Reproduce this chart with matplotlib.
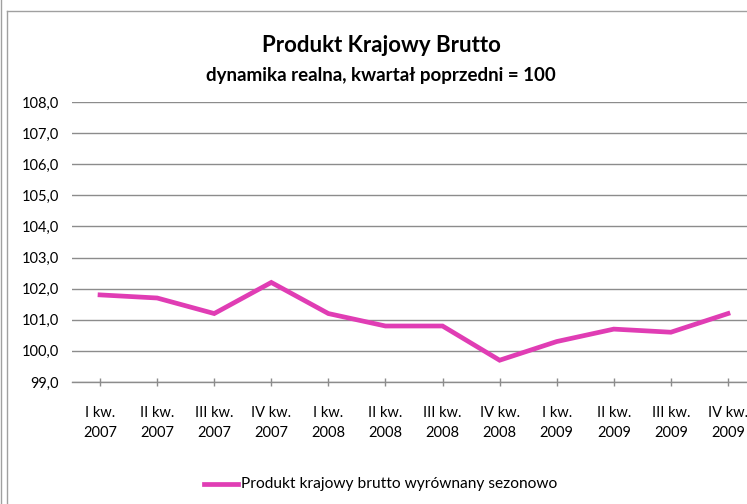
import matplotlib
matplotlib.use("Agg")
import matplotlib.pyplot as plt
from matplotlib.lines import Line2D

categories = ["I kw.\n2007", "II kw.\n2007", "III kw.\n2007", "IV kw.\n2007",
              "I kw.\n2008", "II kw.\n2008", "III kw.\n2008", "IV kw.\n2008",
              "I kw.\n2009", "II kw.\n2009", "III kw.\n2009", "IV kw.\n2009"]
values = [101.8, 101.7, 101.2, 102.2, 101.2, 100.8, 100.8, 99.7, 100.3, 100.7, 100.6, 101.2]
yticks = [99, 100, 101, 102, 103, 104, 105, 106, 107, 108]
title = "Produkt Krajowy Brutto"
subtitle = "dynamika realna, kwartał poprzedni = 100"
series_name = "Produkt krajowy brutto wyrównany sezonowo"

plt.rcParams['font.family'] = ['Lato', 'DejaVu Sans']

W, H = 747, 504
fig = plt.figure(figsize=(W/100, H/100), dpi=100)

ax_left = 71.5 / W
ax_right = 756.5 / W
ax_top = 1 - 102 / H
ax_bottom = 1 - 382 / H
ax = fig.add_axes([ax_left, ax_bottom, ax_right - ax_left, ax_top - ax_bottom])

line_color = "#E03DB4"
x = list(range(len(values)))
ax.plot(x, values, color=line_color, lw=3.4, solid_joinstyle='miter', zorder=3, clip_on=False)

ax.set_xlim(-0.5, len(values) - 0.5)
ax.set_ylim(99, 108)
ax.set_yticks(yticks)
ax.set_yticklabels([f"{v:.1f}".replace(".", ",") for v in yticks], fontsize=10.5, color="#000000")
ax.set_xticks(x)
ax.set_xticklabels(categories, fontsize=10.5, linespacing=1.6)
ax.grid(axis='y', color="#8C8C8C", lw=1.0)
ax.set_axisbelow(True)
for s in ['top', 'right', 'left']:
    ax.spines[s].set_visible(False)
ax.spines['bottom'].set_color("#8C8C8C")
ax.spines['bottom'].set_linewidth(1.0)
ax.tick_params(axis='y', length=0, pad=9)
ax.tick_params(axis='x', direction='inout', length=6, width=1, color="#8C8C8C", pad=14)

fig.text(381 / W, 1 - 45 / H, title, ha='center', va='center', fontsize=16, fontweight='bold')
fig.text(381 / W, 1 - 75 / H, subtitle, ha='center', va='center', fontsize=13.5, fontweight='bold')

# legend
ly = 1 - 484 / H
fig.add_artist(Line2D([204 / W, 238 / W], [ly, ly], color=line_color, lw=3.4, transform=fig.transFigure))
fig.text(241 / W, ly, series_name, ha='left', va='center', fontsize=11.2)

# frame
frame_c = "#A0A0A0"
fig.add_artist(Line2D([7 / W, 7 / W], [0, 1 - 11 / H], color=frame_c, lw=1.0, transform=fig.transFigure))
fig.add_artist(Line2D([7 / W, 1], [1 - 11 / H, 1 - 11 / H], color=frame_c, lw=1.0, transform=fig.transFigure))
fig.add_artist(Line2D([1.5 / W, 1.5 / W], [0, 1], color=frame_c, lw=1.0, transform=fig.transFigure))

fig.savefig("out.png", dpi=100)
